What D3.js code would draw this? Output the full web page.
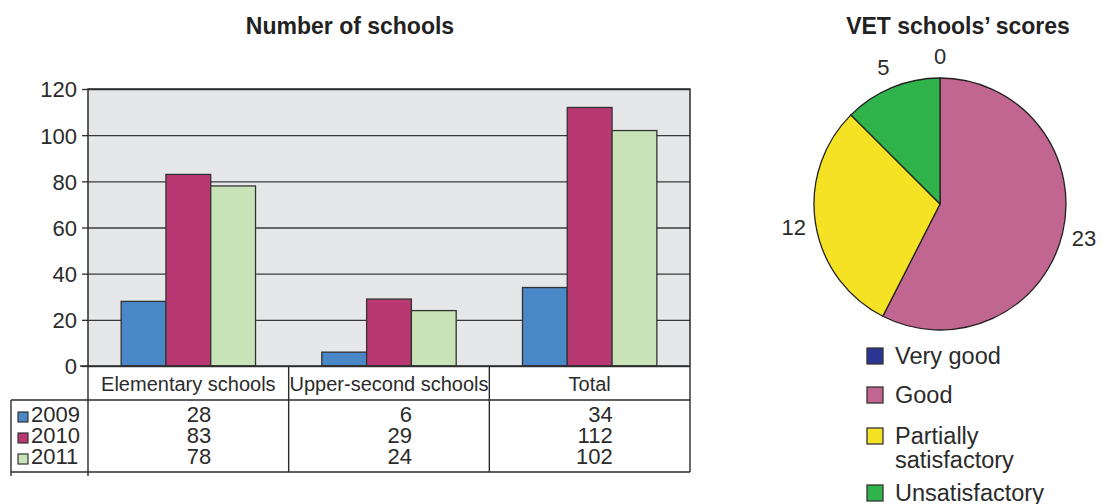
<!DOCTYPE html>
<html>
<head>
<meta charset="utf-8">
<script src="https://cdn.jsdelivr.net/npm/d3@7"></script>
<style>
  html, body { margin: 0; padding: 0; background: #fff; }
  svg { display: block; font-family: "Liberation Sans", Arial, sans-serif; }
</style>
</head>
<body>
<svg id="chart" width="1103" height="504"></svg>
<script>
// School counts by category and year
const categories = ["Elementary schools", "Upper-second schools", "Total"];
const years = ["2009", "2010", "2011"];
const values2009 = [28, 6, 34];
const values2010 = [83, 29, 112];
const values2011 = [78, 24, 102];
const yTicks = [0, 20, 40, 60, 80, 100, 120];

// VET school score distribution
const scoreLabels = ["Very good", "Good", "Partially satisfactory", "Unsatisfactory"];
const scoreValues = [0, 23, 12, 5];

const yearColors = ["#4a87c6", "#b83872", "#c9e3b9"];
const scoreColors = ["#2b3593", "#c16591", "#f6e225", "#31b34b"];
const ink = "#2b2b2b";

const svg = d3.select("#chart");

// ---------- Bar chart ----------
const plot = { left: 88, right: 690, top: 89, bottom: 366 };
const x0 = d3.scaleBand().domain(categories).range([plot.left, plot.right]).paddingInner(0).paddingOuter(0);
const x1 = d3.scaleBand().domain(years).range([0, x0.bandwidth()]).paddingOuter(0.74).paddingInner(0);
const y = d3.scaleLinear().domain([0, 120]).range([plot.bottom, plot.top]);

svg.append("rect")
  .attr("x", plot.left).attr("y", plot.top)
  .attr("width", plot.right - plot.left).attr("height", plot.bottom - plot.top)
  .attr("fill", "#e6e7e9");

// Horizontal gridlines
svg.append("g")
  .attr("transform", `translate(${plot.left},0)`)
  .call(d3.axisLeft(y).tickValues(yTicks).tickSize(-(plot.right - plot.left)).tickFormat(""))
  .call(g => g.select(".domain").remove())
  .call(g => g.selectAll("line").attr("stroke", "#3a3a3a").attr("stroke-width", 1.3));

// Y axis with labels
svg.append("g")
  .attr("transform", `translate(${plot.left},0)`)
  .call(d3.axisLeft(y).tickValues(yTicks).tickSize(6).tickPadding(5))
  .call(g => g.select(".domain").remove())
  .call(g => g.selectAll("line").attr("stroke", ink).attr("stroke-width", 1.3))
  .call(g => g.selectAll("text").attr("font-size", 22).attr("fill", ink)
    .attr("font-family", "Liberation Sans, Arial, sans-serif").attr("dy", "0.36em"));

// Bars
const series = [values2009, values2010, values2011];
const barData = [];
categories.forEach((c, i) => years.forEach((yr, j) => barData.push({ c, yr, j, v: series[j][i] })));

svg.append("g").selectAll("rect").data(barData).join("rect")
  .attr("x", d => x0(d.c) + x1(d.yr))
  .attr("y", d => y(d.v))
  .attr("width", x1.bandwidth())
  .attr("height", d => y(0) - y(d.v))
  .attr("fill", d => yearColors[d.j])
  .attr("stroke", "#333")
  .attr("stroke-width", 1.3);

// Plot frame: left, top, right
svg.append("path")
  .attr("d", `M${plot.left},${plot.bottom}V${plot.top}H${plot.right}V${plot.bottom}`)
  .attr("fill", "none").attr("stroke", ink).attr("stroke-width", 1.5);

// ---------- Data table under the bars ----------
const tbl = { left: 11, headerBottom: 400, bottom: 472 };
const lines = svg.append("g").attr("stroke", ink).attr("stroke-width", 1.4).attr("fill", "none");
lines.append("line").attr("x1", plot.left - 8).attr("x2", plot.right).attr("y1", plot.bottom).attr("y2", plot.bottom);
lines.append("line").attr("x1", tbl.left).attr("x2", plot.right).attr("y1", tbl.headerBottom).attr("y2", tbl.headerBottom);
lines.append("line").attr("x1", tbl.left).attr("x2", plot.right).attr("y1", tbl.bottom).attr("y2", tbl.bottom);
lines.append("line").attr("x1", tbl.left).attr("x2", tbl.left).attr("y1", tbl.headerBottom).attr("y2", tbl.bottom + 4);
const colEdges = [plot.left, ...categories.slice(1).map(c => x0(c)), plot.right];
colEdges.forEach((xe, i) => {
  lines.append("line").attr("x1", xe).attr("x2", xe)
    .attr("y1", plot.bottom).attr("y2", tbl.bottom + (i === 0 ? 4 : 0));
});

// Column headers
svg.append("g").selectAll("text").data(categories).join("text")
  .attr("x", d => x0(d) + x0.bandwidth() / 2)
  .attr("y", 391)
  .attr("text-anchor", "middle")
  .attr("font-size", 20)
  .attr("fill", ink)
  .text(d => d);

// Year rows with swatches
const rowBase = [422, 443, 464];
const rows = svg.append("g");
years.forEach((yr, j) => {
  rows.append("rect")
    .attr("x", 18).attr("y", rowBase[j] - 10)
    .attr("width", 10).attr("height", 10)
    .attr("fill", yearColors[j]).attr("stroke", "#333").attr("stroke-width", 1.2);
  rows.append("text")
    .attr("x", 31).attr("y", rowBase[j])
    .attr("font-size", 22).attr("fill", ink)
    .text(yr);
  categories.forEach((c, i) => {
    rows.append("text")
      .attr("x", x0(c) + x0.bandwidth() / 2 + 23)
      .attr("y", rowBase[j])
      .attr("text-anchor", "end")
      .attr("font-size", 22).attr("fill", ink)
      .text(series[j][i]);
  });
});

// Bar chart title
svg.append("text")
  .attr("x", 350).attr("y", 34)
  .attr("text-anchor", "middle")
  .attr("font-size", 23).attr("font-weight", "bold").attr("fill", "#222")
  .text("Number of schools");

// ---------- Pie chart ----------
const cx = 940, cy = 204, r = 126;
const pie = d3.pie().sort(null).value(d => d)(scoreValues);
const arc = d3.arc().innerRadius(0).outerRadius(r);
const labelArc = d3.arc().innerRadius(148).outerRadius(148);

const pg = svg.append("g").attr("transform", `translate(${cx},${cy})`);
pg.selectAll("path").data(pie).join("path")
  .attr("d", arc)
  .attr("fill", (d, i) => scoreColors[i])
  .attr("stroke", "#222").attr("stroke-width", 1.3);

pg.selectAll("text").data(pie).join("text")
  .attr("transform", d => `translate(${labelArc.centroid(d)})`)
  .attr("text-anchor", "middle")
  .attr("dy", "0.36em")
  .attr("font-size", 22).attr("fill", ink)
  .text(d => d.data);

svg.append("text")
  .attr("x", 958).attr("y", 34)
  .attr("text-anchor", "middle")
  .attr("font-size", 23).attr("font-weight", "bold").attr("fill", "#222")
  .text("VET schools’ scores");

// Legend
const legendTop = [348, 387, 428, 485];
const lg = svg.append("g");
scoreLabels.forEach((lab, i) => {
  lg.append("rect")
    .attr("x", 867).attr("y", legendTop[i])
    .attr("width", 16).attr("height", 16)
    .attr("fill", scoreColors[i]).attr("stroke", "#333").attr("stroke-width", 1.3);
  const t = lg.append("text")
    .attr("x", 895).attr("y", legendTop[i] + 16)
    .attr("font-size", 23.5).attr("fill", ink);
  const words = lab === "Partially satisfactory" ? ["Partially", "satisfactory"] : [lab];
  words.forEach((w, k) => {
    t.append("tspan").attr("x", 895).attr("dy", k === 0 ? 0 : 24).text(w);
  });
});
</script>
</body>
</html>
